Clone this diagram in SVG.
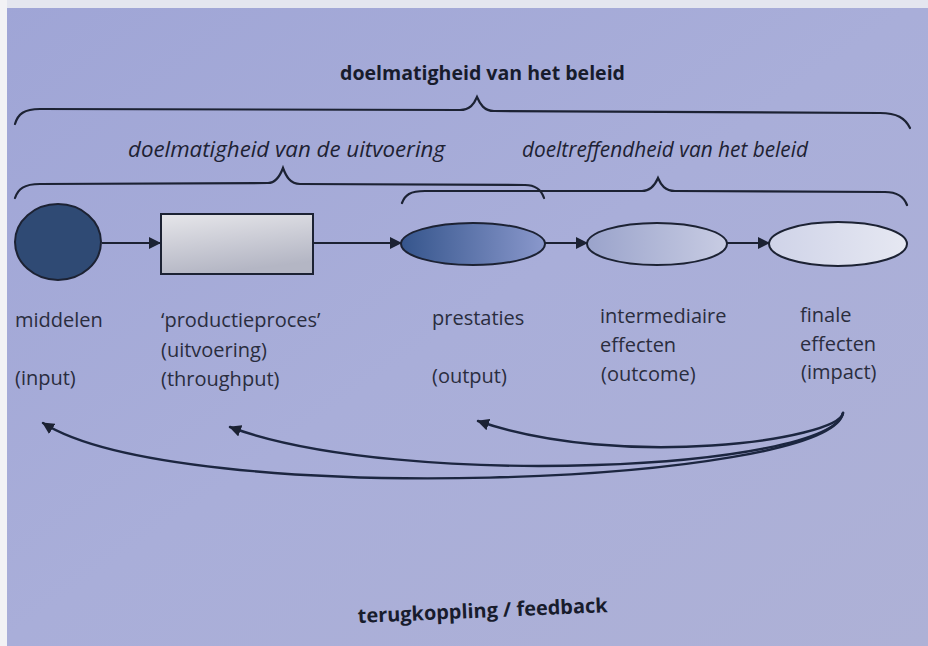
<svg xmlns="http://www.w3.org/2000/svg" width="928" height="646" viewBox="0 0 928 646">
  <defs>
    <linearGradient id="bg" x1="0" y1="0" x2="1" y2="1">
      <stop offset="0" stop-color="#9fa5d6"/>
      <stop offset="0.5" stop-color="#a9aed9"/>
      <stop offset="1" stop-color="#aeb1d6"/>
    </linearGradient>
    <linearGradient id="rectFill" x1="0" y1="0" x2="0.3" y2="1">
      <stop offset="0" stop-color="#e6e6ea"/>
      <stop offset="1" stop-color="#b4b6c4"/>
    </linearGradient>
    <linearGradient id="e1" x1="0" y1="0" x2="1" y2="0">
      <stop offset="0" stop-color="#35558c"/>
      <stop offset="1" stop-color="#8a98cc"/>
    </linearGradient>
    <linearGradient id="e2" x1="0" y1="0" x2="1" y2="0">
      <stop offset="0" stop-color="#9aa3cb"/>
      <stop offset="1" stop-color="#c8cce3"/>
    </linearGradient>
    <linearGradient id="e3" x1="0" y1="0" x2="1" y2="0">
      <stop offset="0" stop-color="#cfd3e8"/>
      <stop offset="1" stop-color="#e6e8f2"/>
    </linearGradient>
    <marker id="arr" viewBox="0 0 12 12" refX="11" refY="6" markerWidth="12" markerHeight="12" markerUnits="userSpaceOnUse" orient="auto">
      <path d="M0,0 L12,6 L0,12 z" fill="#1c2233"/>
    </marker>
  </defs>
  <style>
    .lbl { font-family: "Open Sans", "Liberation Sans", sans-serif; font-size: 20px; fill: #2a2d3e; }
    .ital { font-family: "Open Sans", "Liberation Sans", sans-serif; font-size: 21px; font-style: italic; fill: #1e2233; }
    .bold { font-family: "Open Sans", "Liberation Sans", sans-serif; font-size: 20px; font-weight: bold; fill: #181c2c; }
    .brace { fill: none; stroke: #1c2233; stroke-width: 2.2; stroke-linecap: round; }
    .edge { fill: none; stroke: #1c2233; stroke-width: 2; }
    .fb { fill: none; stroke: #1c2640; stroke-width: 2.4; stroke-linecap: round; }
    .node { stroke: #1c2233; stroke-width: 2; }
  </style>

  <rect x="0" y="0" width="928" height="646" fill="url(#bg)"/>
  <rect x="0" y="0" width="928" height="8" fill="#e4e6ef"/>
  <rect x="0" y="0" width="7" height="646" fill="#f2f2f5"/>

  <!-- headings -->
  <text class="bold" x="340" y="80" textLength="285" lengthAdjust="spacingAndGlyphs">doelmatigheid van het beleid</text>
  <text class="ital" x="128" y="157" textLength="317" lengthAdjust="spacingAndGlyphs">doelmatigheid van de uitvoering</text>
  <text class="ital" x="522" y="157" textLength="286" lengthAdjust="spacingAndGlyphs">doeltreffendheid van het beleid</text>

  <!-- braces -->
  <g id="braces">
    <path class="brace" d="M15,124 C18,114 24,109 40,109 L460,110 C470,110 474,104 477,97 C480,104 484,111 494,111 L880,113 C897,113 905,118 910,128"/>
    <path class="brace" d="M15,198 C18,189 24,184 40,184 L268,183 C276,183 280,176 283,168 C286,176 290,184 300,184 L525,185 C535,185 541,189 544,198"/>
    <path class="brace" d="M402,203 C405,195 410,191 425,191 L642,191 C650,191 655,185 658,178 C661,185 665,191 675,191 L885,192 C898,192 904,197 907,205"/>
  </g>

  <!-- connectors -->
  <g id="connectors">
    <line class="edge" x1="102" y1="243" x2="160" y2="243" marker-end="url(#arr)"/>
    <line class="edge" x1="313" y1="243" x2="401" y2="243" marker-end="url(#arr)"/>
    <line class="edge" x1="545" y1="243" x2="587" y2="243" marker-end="url(#arr)"/>
    <line class="edge" x1="727" y1="243" x2="769" y2="243" marker-end="url(#arr)"/>
    <path class="fb" d="M843,413 C838,440 620,470 478,421" marker-end="url(#arr)"/>
    <path class="fb" d="M843,413 C830,470 400,490 230,427" marker-end="url(#arr)"/>
    <path class="fb" d="M843,413 C830,485 180,510 43,423" marker-end="url(#arr)"/>
  </g>

  <!-- nodes -->
  <g id="node-middelen">
    <ellipse class="node" cx="58" cy="242" rx="43" ry="38" fill="#2f4a74"/>
    <text class="lbl" x="15" y="327">middelen</text>
    <text class="lbl" x="15" y="385">(input)</text>
  </g>
  <g id="node-productieproces">
    <rect class="node" x="161" y="214" width="152" height="60" fill="url(#rectFill)"/>
    <text class="lbl" x="161" y="327">‘productieproces’</text>
    <text class="lbl" x="161" y="357">(uitvoering)</text>
    <text class="lbl" x="161" y="386">(throughput)</text>
  </g>
  <g id="node-prestaties">
    <ellipse class="node" cx="473" cy="244" rx="72" ry="21" fill="url(#e1)"/>
    <text class="lbl" x="432" y="325">prestaties</text>
    <text class="lbl" x="432" y="383">(output)</text>
  </g>
  <g id="node-intermediaire">
    <ellipse class="node" cx="657" cy="244" rx="70" ry="21" fill="url(#e2)"/>
    <text class="lbl" x="600" y="323">intermediaire</text>
    <text class="lbl" x="600" y="352">effecten</text>
    <text class="lbl" x="601" y="381">(outcome)</text>
  </g>
  <g id="node-finale">
    <ellipse class="node" cx="838" cy="244" rx="69" ry="22" fill="url(#e3)"/>
    <text class="lbl" x="800" y="322">finale</text>
    <text class="lbl" x="800" y="351">effecten</text>
    <text class="lbl" x="801" y="379">(impact)</text>
  </g>

  <text class="bold" x="358" y="623" transform="rotate(-2.5 358 623)" textLength="250" lengthAdjust="spacingAndGlyphs">terugkoppling / feedback</text>
</svg>
